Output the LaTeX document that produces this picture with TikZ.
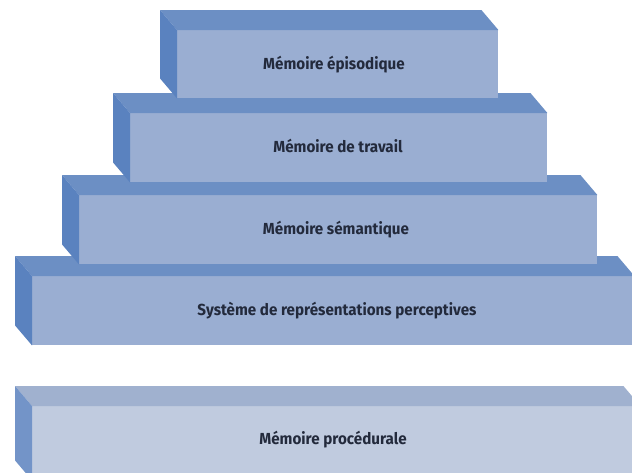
\documentclass[tikz,border=0pt]{standalone}
\usepackage{fontspec}
\setmainfont{Fira Sans}
\usetikzlibrary{calc}
\definecolor{frontc}{HTML}{9AAED2}
\definecolor{topc}{HTML}{6C8FC4}
\definecolor{sidec}{HTML}{5A82BF}
\definecolor{lfrontc}{HTML}{C0CBDF}
\definecolor{ltopc}{HTML}{A0B1CF}
\definecolor{lsidec}{HTML}{7394C8}
\definecolor{txtc}{HTML}{232A3C}
\newcommand{\lblfont}{\bfseries\fontsize{16}{18}\selectfont}
\tikzset{
  front/.style={rectangle, inner sep=0pt, fill=frontc},
  lfront/.style={front, fill=lfrontc},
  lbl/.style={text=txtc, font=\lblfont, xscale=0.95},
  topface/.style={fill=topc},
  sideface/.style={fill=sidec},
  ltopface/.style={fill=ltopc},
  lsideface/.style={fill=lsidec},
}
\newcommand{\blockfaces}[3]{%
  \fill[#2] (#1.north west) -- ($(#1.north west)+(-17,-20)$) -- ($(#1.north east)+(-17,-20)$) -- (#1.north east) -- cycle;
  \fill[#3] (#1.north west) -- ($(#1.north west)+(-17,-20)$) -- ($(#1.south west)+(-17,-20)$) -- (#1.south west) -- cycle;
}
\begin{document}
\begin{tikzpicture}[x=1pt,y=-1pt]
\useasboundingbox (0,0) rectangle (632,472);
\clip (0,0) rectangle (632,472);
\fill[white] (0,0) rectangle (632,472);
% block 5
\node[lfront, minimum width=608pt, minimum height=74pt, anchor=north west] (b5) at (32,406) {};
\blockfaces{b5}{ltopface}{lsideface}
\node[lbl] (t5) at (333,440) {Mémoire procédurale};
% block 4
\node[front, minimum width=602pt, minimum height=69pt, anchor=north west] (b4) at (32,276) {};
\blockfaces{b4}{topface}{sideface}
\node[lbl] (t4) at (337,311) {Système de représentations perceptives};
% block 3
\node[front, minimum width=518pt, minimum height=69pt, anchor=north west] (b3) at (79,195) {};
\blockfaces{b3}{topface}{sideface}
\node[lbl] (t3) at (336,230) {Mémoire sémantique};
% block 2
\node[front, minimum width=417pt, minimum height=69pt, anchor=north west] (b2) at (130,113) {};
\blockfaces{b2}{topface}{sideface}
\node[lbl] (t2) at (338,146) {Mémoire de travail};
% block 1
\node[front, minimum width=321pt, minimum height=68pt, anchor=north west] (b1) at (177,30) {};
\blockfaces{b1}{topface}{sideface}
\node[lbl] (t1) at (334,65) {Mémoire épisodique};
\end{tikzpicture}
\end{document}
